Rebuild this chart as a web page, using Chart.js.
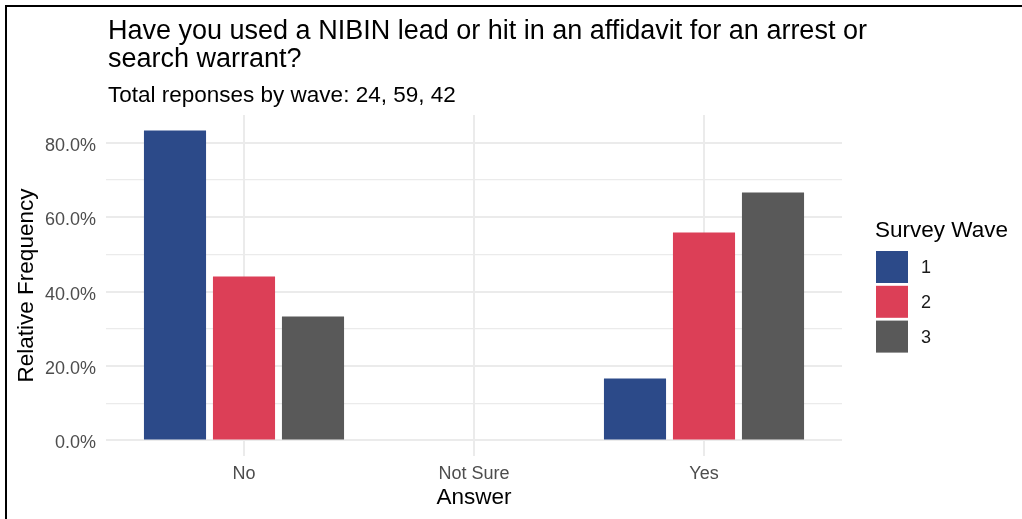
<!DOCTYPE html>
<html>
<head>
<meta charset="utf-8">
<script src="https://cdn.jsdelivr.net/npm/chart.js@4.4.1/dist/chart.umd.min.js"></script>
<style>
  html, body { margin: 0; padding: 0; background: #ffffff; }
  #wrap { position: relative; width: 1022px; height: 519px; }
  canvas { display: block; }
</style>
</head>
<body>
<div id="wrap"><canvas id="c" width="1022" height="519"></canvas></div>
<script>
const categories = ['No', 'Not Sure', 'Yes'];
const waveLabels = ['1', '2', '3'];
const wave1 = [83.33, 0, 16.67];
const wave2 = [44.07, 0, 55.93];
const wave3 = [33.33, 0, 66.67];
const yTicks = [0, 10, 20, 30, 40, 50, 60, 70, 80];
const titleLines = ['Have you used a NIBIN lead or hit in an affidavit for an arrest or', 'search warrant?'];
const subtitle = 'Total reponses by wave: 24, 59, 42';
const xTitle = 'Answer';
const yTitle = 'Relative Frequency';
const legendTitle = 'Survey Wave';
const colors = ['#2c4a89', '#dc3f57', '#595959'];

const FONT = "'Liberation Sans', Arial, sans-serif";

const seriesList = [wave1, wave2, wave3];
const datasets = seriesList.map((s, k) => ({
  label: waveLabels[k],
  data: s.map((v, i) => ({ x: i, y: v })),
  backgroundColor: colors[k],
  borderWidth: 0,
  categoryPercentage: 0.9,
  barPercentage: 0.9
}));

const decor = {
  id: 'decor',
  beforeDraw(chart) {
    const ctx = chart.ctx;
    ctx.save();
    ctx.fillStyle = '#ffffff';
    ctx.fillRect(0, 0, chart.width, chart.height);
    ctx.restore();
  },
  afterDraw(chart) {
    const ctx = chart.ctx;
    const ca = chart.chartArea;
    ctx.save();
    // title
    ctx.fillStyle = '#000000';
    ctx.textAlign = 'left';
    ctx.textBaseline = 'alphabetic';
    ctx.font = '27px ' + FONT;
    ctx.fillText(titleLines[0], 108, 39);
    ctx.fillText(titleLines[1], 108, 67);
    ctx.font = '22.5px ' + FONT;
    ctx.fillText(subtitle, 108, 102);
    // axis titles
    ctx.textAlign = 'center';
    ctx.textBaseline = 'middle';
    ctx.font = '22.5px ' + FONT;
    ctx.fillText(xTitle, (ca.left + ca.right) / 2, 498);
    ctx.save();
    ctx.translate(27, (ca.top + ca.bottom) / 2);
    ctx.rotate(-Math.PI / 2);
    ctx.fillText(yTitle, 0, 0);
    ctx.restore();
    // legend
    ctx.textAlign = 'left';
    ctx.textBaseline = 'alphabetic';
    ctx.font = '22.5px ' + FONT;
    ctx.fillText(legendTitle, 875, 237);
    const ds = chart.data.datasets;
    ds.forEach((d, k) => {
      const top = 251 + k * 34.8;
      ctx.fillStyle = d.backgroundColor;
      ctx.fillRect(876, top, 32, 32);
      ctx.fillStyle = '#1a1a1a';
      ctx.font = '18px ' + FONT;
      ctx.textBaseline = 'middle';
      ctx.fillText(d.label, 921, top + 17);
    });
    // frame
    ctx.fillStyle = '#000000';
    ctx.fillRect(5, 5, chart.width - 5, 2);
    ctx.fillRect(5, 5, 2, chart.height - 5);
    ctx.restore();
  }
};

new Chart(document.getElementById('c'), {
  type: 'bar',
  data: { datasets },
  options: {
    responsive: false,
    devicePixelRatio: 1,
    animation: false,
    layout: { padding: { top: 115, left: 0, right: 180, bottom: 0 } },
    plugins: { legend: { display: false }, tooltip: { enabled: false }, title: { display: false } },
    scales: {
      x: {
        type: 'linear',
        min: -0.6,
        max: 2.6,
        offset: false,
        afterBuildTicks: (s) => { s.ticks = categories.map((c, i) => ({ value: i })); },
        afterFit: (s) => { s.height = 63; },
        ticks: {
          callback: (v) => categories[v],
          color: '#4d4d4d',
          font: { family: FONT, size: 18 },
          padding: 7,
          maxRotation: 0,
          autoSkip: false
        },
        grid: { color: '#ebebeb', lineWidth: 2, drawTicks: false, offset: false },
        border: { display: false }
      },
      y: {
        type: 'linear',
        min: -4.1667,
        max: 87.5,
        afterBuildTicks: (s) => { s.ticks = yTicks.map(v => ({ value: v })); },
        afterFit: (s) => { s.width = 106; },
        ticks: {
          callback: (v) => (v % 20 === 0 ? v.toFixed(1) + '%' : ''),
          color: '#4d4d4d',
          font: { family: FONT, size: 18 },
          padding: 10,
          labelOffset: 3,
          autoSkip: false
        },
        grid: {
          color: '#ebebeb',
          lineWidth: (c) => (c.tick && c.tick.value % 20 === 0 ? 2 : 1.3),
          drawTicks: false
        },
        border: { display: false }
      }
    }
  },
  plugins: [decor]
});
</script>
</body>
</html>
